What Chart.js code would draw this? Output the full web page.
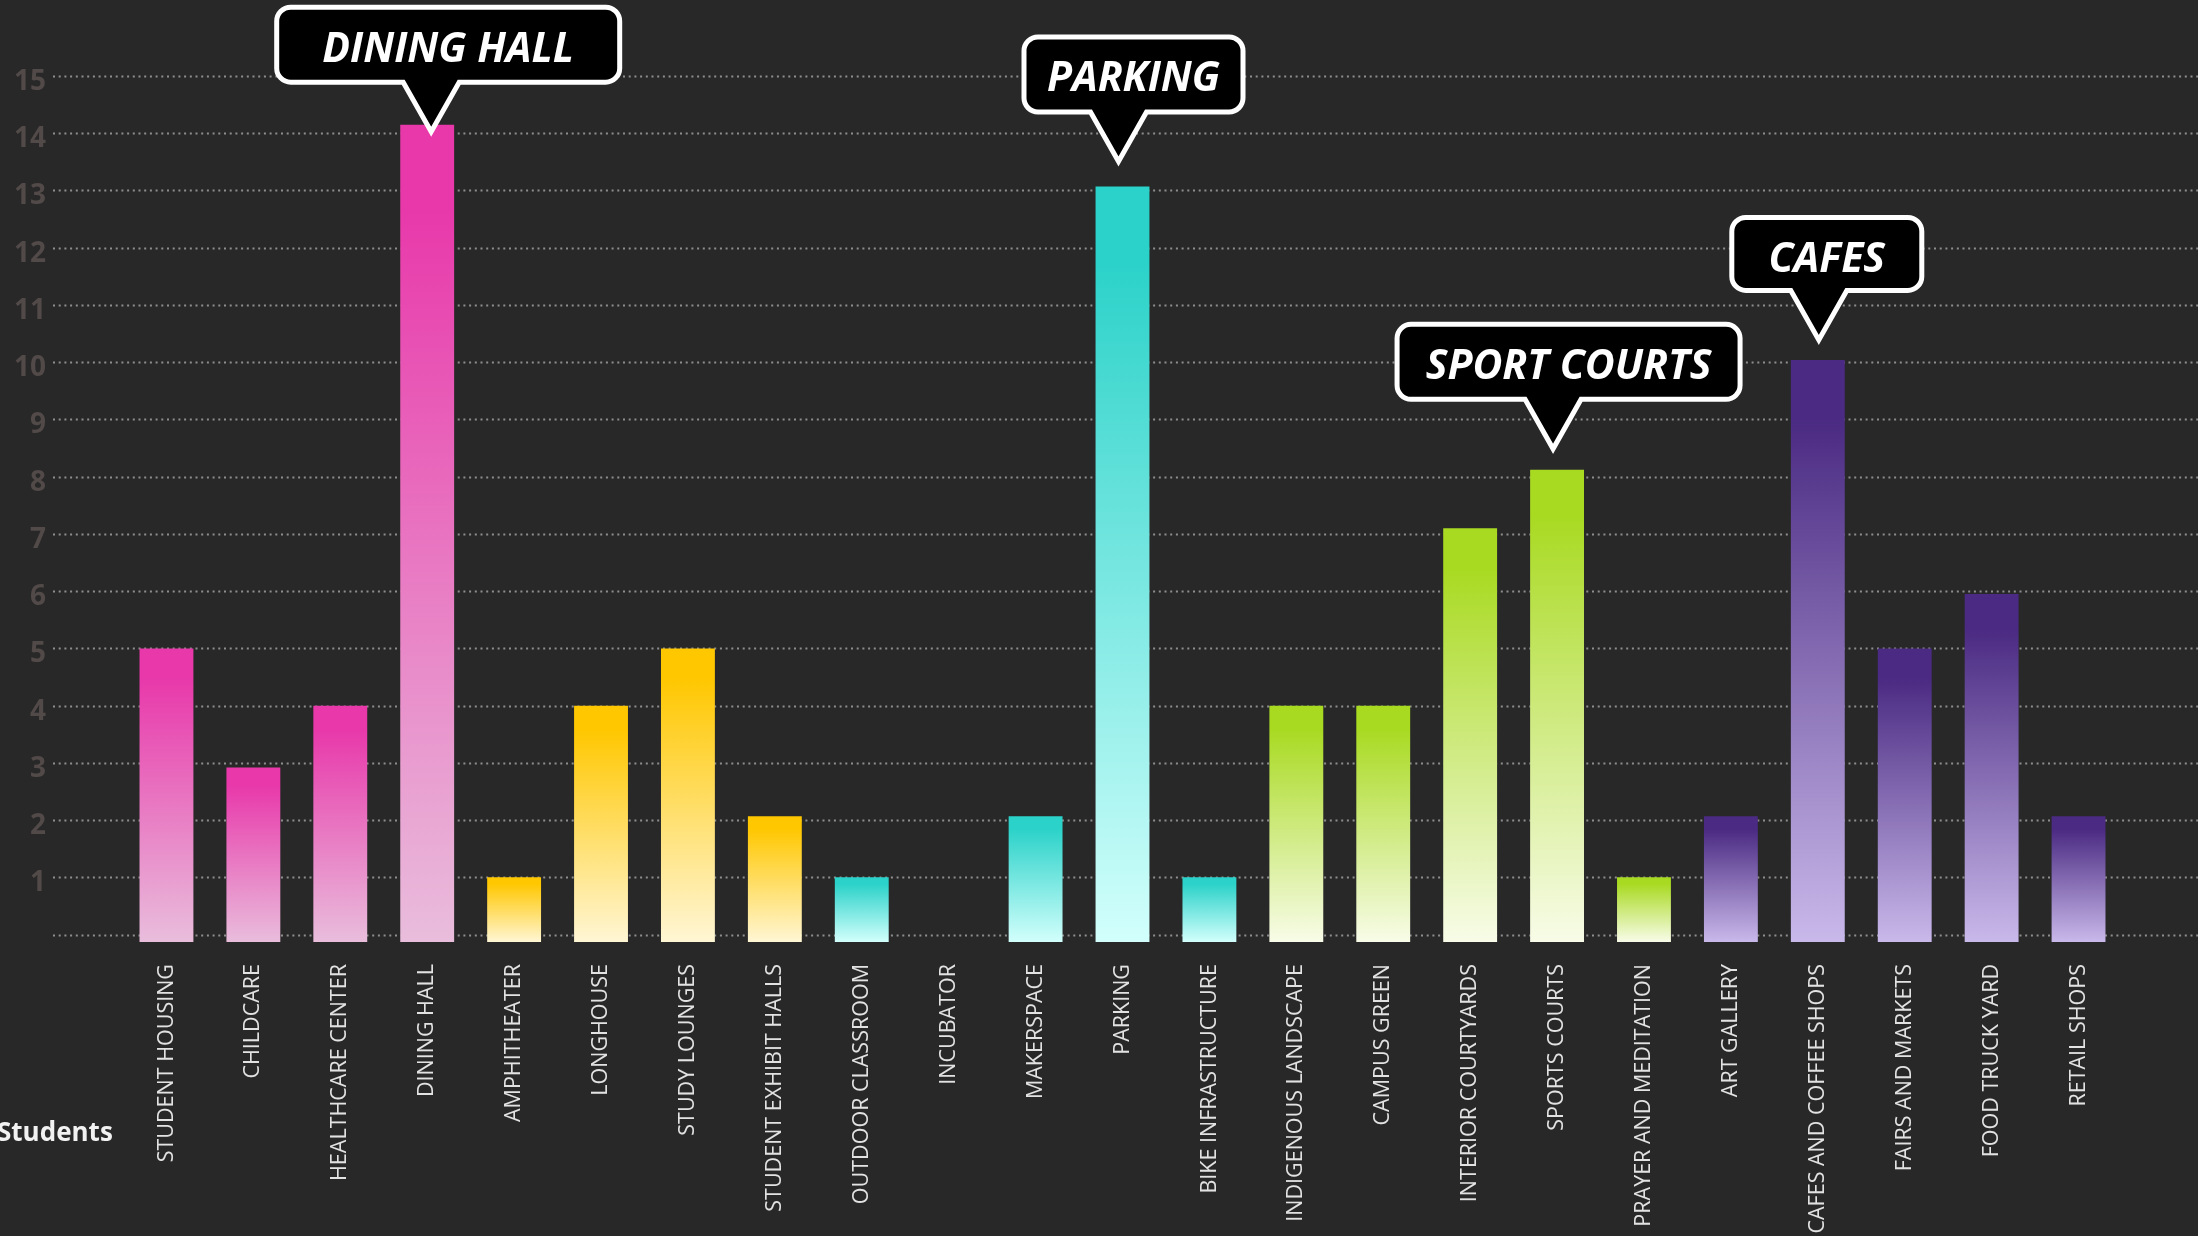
<!DOCTYPE html>
<html>
<head>
<meta charset="utf-8">
<title>Students</title>
<script src="https://cdn.jsdelivr.net/npm/chart.js@4"></script>
<style>
  html, body { margin: 0; padding: 0; background: #282828; }
  #wrap { width: 2198px; height: 1236px; position: relative; }
</style>
</head>
<body>
<div id="wrap"><canvas id="chart"></canvas></div>
<script>
// data
const categories = [
  "STUDENT HOUSING", "CHILDCARE", "HEALTHCARE CENTER", "DINING HALL",
  "AMPHITHEATER", "LONGHOUSE", "STUDY LOUNGES", "STUDENT EXHIBIT HALLS",
  "OUTDOOR CLASSROOM", "INCUBATOR", "MAKERSPACE", "PARKING", "BIKE INFRASTRUCTURE",
  "INDIGENOUS LANDSCAPE", "CAMPUS GREEN", "INTERIOR COURTYARDS", "SPORTS COURTS", "PRAYER AND MEDITATION",
  "ART GALLERY", "CAFES AND COFFEE SHOPS", "FAIRS AND MARKETS", "FOOD TRUCK YARD", "RETAIL SHOPS"
];
const students = [5, 2.92, 4, 14.15, 1, 4, 5, 2.07, 1, 0, 2.07, 13.07, 1, 4, 4, 7.1, 8.12, 1, 2.07, 10.04, 5, 5.95, 2.07];
const yTicks = [0, 1, 2, 3, 4, 5, 6, 7, 8, 9, 10, 11, 12, 13, 14, 15];
const seriesName = "Students";

const calloutLabels = ["DINING HALL", "PARKING", "SPORT COURTS", "CAFES"];
const calloutTargets = ["DINING HALL", "PARKING", "SPORTS COURTS", "CAFES AND COFFEE SHOPS"];

// styling
const Y_MIN = -0.129;
const groupColors = [
  { count: 4, top: "#e838aa", bottom: "#e9bddc" },
  { count: 4, top: "#ffc700", bottom: "#fff6d4" },
  { count: 5, top: "#2bd2c9", bottom: "#d2fffc" },
  { count: 5, top: "#a9da22", bottom: "#f8fce8" },
  { count: 5, top: "#4a2a82", bottom: "#c9b8ea" }
];
// gap: tip above bar top, tipDx/boxDx: offsets from the bar centre
const calloutStyle = [
  { width: 348, height: 80, gap: -12, tipDx: 4, boxDx: 21 },
  { width: 224, height: 80, gap: 20, tipDx: -4, boxDx: 11 },
  { width: 348, height: 80, gap: 16, tipDx: -4, boxDx: 11.5 },
  { width: 195, height: 78, gap: 15, tipDx: 1, boxDx: 9 }
];

function colorFor(index) {
  let n = index;
  for (const g of groupColors) {
    if (n < g.count) return g;
    n -= g.count;
  }
  return groupColors[groupColors.length - 1];
}

function barFill(ctx) {
  if (ctx.type !== "data") return "#000";
  const g = colorFor(ctx.dataIndex);
  const chart = ctx.chart;
  const y = chart.scales.y;
  if (!chart.chartArea || !y) return g.top;
  if (ctx.raw <= 0) return "rgba(0,0,0,0)";
  const top = y.getPixelForValue(ctx.raw);
  const bot = y.getPixelForValue(Y_MIN);
  const grad = chart.ctx.createLinearGradient(0, top, 0, bot);
  grad.addColorStop(0, g.top);
  grad.addColorStop(0.1, g.top);
  grad.addColorStop(1, g.bottom);
  return grad;
}

// dotted grid that runs past the plot area
const dottedGrid = {
  id: "dottedGrid",
  beforeDatasetsDraw(chart) {
    const { ctx, scales } = chart;
    ctx.save();
    ctx.strokeStyle = "#8e8e8e";
    ctx.lineWidth = 2;
    ctx.setLineDash([2, 3.7]);
    yTicks.forEach(v => {
      const py = Math.round(scales.y.getPixelForValue(v)) + 0.5;
      ctx.beginPath();
      ctx.moveTo(53, py);
      ctx.lineTo(chart.width, py);
      ctx.stroke();
    });
    ctx.restore();
  }
};

const seriesTitle = {
  id: "seriesTitle",
  afterDraw(chart) {
    const { ctx } = chart;
    ctx.save();
    ctx.font = "bold 26px 'Open Sans'";
    ctx.fillStyle = "#f2f2f2";
    ctx.textAlign = "left";
    ctx.textBaseline = "alphabetic";
    ctx.fillText(seriesName, -3, 1141);
    ctx.restore();
  }
};

const callouts = {
  id: "callouts",
  afterDatasetsDraw(chart) {
    const { ctx, scales } = chart;
    const lw = 5, r = 14, tipH = 52, half = 28;
    ctx.save();
    calloutLabels.forEach((label, k) => {
      const idx = categories.indexOf(calloutTargets[k]);
      const st = calloutStyle[k];
      const cx = scales.x.getPixelForValue(idx);
      const tx = cx + st.tipDx;
      const tipY = scales.y.getPixelForValue(students[idx]) - st.gap;
      const bx = cx + st.boxDx - st.width / 2;
      const by = tipY - tipH - st.height;
      const L = bx + lw / 2, R = bx + st.width - lw / 2;
      const T = by + lw / 2, B = by + st.height - lw / 2;
      ctx.beginPath();
      ctx.moveTo(L + r, T);
      ctx.lineTo(R - r, T);
      ctx.arcTo(R, T, R, T + r, r);
      ctx.lineTo(R, B - r);
      ctx.arcTo(R, B, R - r, B, r);
      ctx.lineTo(tx + half, B);
      ctx.lineTo(tx, tipY - 5);
      ctx.lineTo(tx - half, B);
      ctx.lineTo(L + r, B);
      ctx.arcTo(L, B, L, B - r, r);
      ctx.lineTo(L, T + r);
      ctx.arcTo(L, T, L + r, T, r);
      ctx.closePath();
      ctx.fillStyle = "#000";
      ctx.fill();
      ctx.lineWidth = lw;
      ctx.lineJoin = "miter";
      ctx.miterLimit = 10;
      ctx.strokeStyle = "#ffffff";
      ctx.stroke();

      ctx.font = "italic bold 41px 'Open Sans'";
      ctx.fillStyle = "#ffffff";
      ctx.textAlign = "center";
      ctx.textBaseline = "alphabetic";
      ctx.fillText(label, bx + st.width / 2, by + 57);
    });
    ctx.restore();
  }
};

new Chart(document.getElementById("chart"), {
  type: "bar",
  data: {
    labels: categories,
    datasets: [{
      label: seriesName,
      data: students,
      base: Y_MIN,
      backgroundColor: barFill,
      borderWidth: 0,
      categoryPercentage: 1,
      barPercentage: 0.62
    }]
  },
  options: {
    responsive: true,
    maintainAspectRatio: false,
    animation: false,
    layout: { padding: { top: 76, right: 76, left: 0, bottom: 0 } },
    plugins: {
      legend: { display: false },
      tooltip: { enabled: false }
    },
    scales: {
      x: {
        grid: { display: false, drawTicks: false },
        border: { display: false },
        ticks: {
          color: "#e2e2e2",
          font: { family: "'Open Sans'", size: 21.5 },
          maxRotation: 90,
          minRotation: 90,
          autoSkip: false,
          padding: 22
        },
        afterFit(scale) {
          scale.height = 294;
          scale.paddingLeft = 0;
          scale.paddingRight = 0;
        }
      },
      y: {
        min: Y_MIN,
        max: 15,
        grid: { display: false, drawTicks: false },
        border: { display: false },
        afterBuildTicks(scale) { scale.ticks = yTicks.map(v => ({ value: v })); },
        ticks: {
          color: "#524949",
          font: { family: "'Open Sans'", size: 28, weight: "bold" },
          padding: 77,
          labelOffset: 6,
          callback: v => (v === 0 ? "" : String(v))
        },
        afterFit(scale) {
          scale.width = 123;
          scale.paddingTop = 0;
          scale.paddingBottom = 0;
        }
      }
    }
  },
  plugins: [dottedGrid, callouts, seriesTitle]
});
</script>
</body>
</html>
